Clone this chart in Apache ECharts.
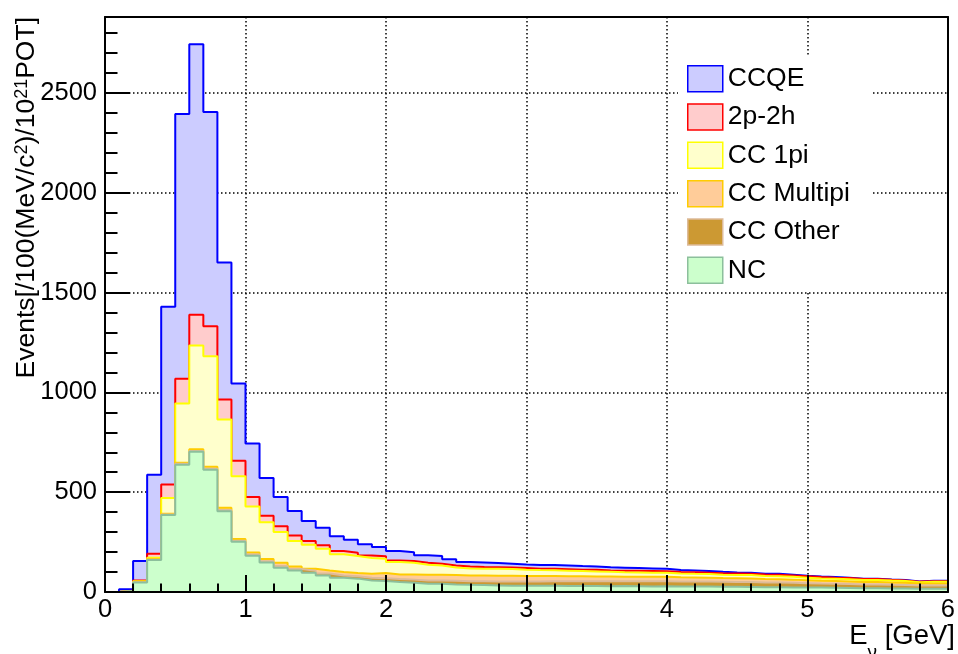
<!DOCTYPE html>
<html>
<head>
<meta charset="utf-8">
<script src="https://cdn.jsdelivr.net/npm/echarts@6/dist/echarts.min.js"></script>
<style>
  html, body { margin: 0; padding: 0; background: #fff; }
  #chart { width: 958px; height: 654px; }
</style>
</head>
<body>
<div id="chart"></div>
<script>
// Neutrino energy spectrum, events per 100 MeV bin, 0 - 6 GeV (60 bins)
const binWidth = 0.1;   // GeV
const xMin = 0, xMax = 6;
const yMax = 2881;

// Per-channel bin contents, listed bottom layer first
const nc        = [0,5,48,160,386,638,703,612,405,252, 182,148,122,108,97,83,72,67,58,55, 50,46,41,41,38,36,35,33,31,31,
                   31,31,30,30,30,29,30,29,28,29, 28,28,27,26,26,25,24,24,23,22, 22,21,20,19,19,18,17,16,16,16];
const ccOther   = [0,0,1,1,2,4,4,5,6,5, 6,6,8,7,9,10,11,12,13,14, 15,16,17,17,18,18,19,20,21,21,
                   22,23,24,24,24,25,24,25,26,25, 25,25,25,25,24,25,24,23,23,22, 20,20,20,19,19,18,18,16,17,17];
const ccMultipi = [0,0,2,4,4,6,8,10,11,9, 10,11,16,13,11,15,17,16,21,26, 23,26,29,29,29,29,29,29,29,28,
                   27,26,25,25,24,24,23,23,22,22, 21,20,20,19,19,18,17,17,16,15, 14,14,13,12,12,12,11,10,10,10];
const cc1pi     = [0,1,3,7,79,296,520,554,442,314, 231,185,154,128,120,109,89,85,78,72, 62,59,50,46,38,35,34,34,34,32,
                   30,29,28,26,25,23,22,21,21,20, 19,18,18,17,16,17,15,15,14,13, 12,11,11,10,10,9,9,7,8,8];
const twoP2h    = [0,1,4,20,67,124,154,151,100,77, 47,32,29,27,18,17,16,17,13,12, 8,8,10,9,10,10,8,8,8,8,
                   7,7,7,7,8,7,8,8,8,8, 7,8,7,7,8,7,8,8,7,7, 7,6,6,5,5,4,3,3,3,3];
const ccqe      = [0,7,97,396,891,1327,1355,1073,687,388, 268,189,147,123,101,88,74,65,56,46, 47,44,37,38,31,22,23,21,19,18,
                   18,19,19,18,17,16,15,14,13,12, 10,9,8,7,5,5,4,5,4,3, 3,3,2,2,2,2,2,1,2,2];

const xTicks = [0, 1, 2, 3, 4, 5, 6];
const yTicks = [0, 500, 1000, 1500, 2000, 2500];

const FONT = '"Liberation Sans", Arial, Helvetica, sans-serif';

const layers = [
  { name: 'NC',         values: nc,        fill: '#ccffcc', line: '#8cbf9c' },
  { name: 'CC Other',   values: ccOther,   fill: '#cc9933', line: '#ddbb99' },
  { name: 'CC Multipi', values: ccMultipi, fill: '#ffcc99', line: '#ffcc00' },
  { name: 'CC 1pi',     values: cc1pi,     fill: '#ffffcc', line: '#ffff00' },
  { name: '2p-2h',      values: twoP2h,    fill: '#ffcccc', line: '#ff0000' },
  { name: 'CCQE',       values: ccqe,      fill: '#ccccff', line: '#0000ff' }
];

// Stack: each layer's drawn height is the running sum of itself and every layer below
const running = new Array(nc.length).fill(0);
layers.forEach(L => {
  L.cumulative = L.values.map((v, i) => (running[i] += v));
});

// Bin contents -> step points at the low edge of each bin, closed at the last upper edge
function toSteps(values) {
  const pts = values.map((v, i) => [xMin + i * binWidth, v]);
  pts.push([xMin + values.length * binWidth, values[values.length - 1]]);
  return pts;
}

// Draw the full sum first, then each smaller partial sum over it
const series = layers.slice().reverse().map((L, i) => ({
  name: L.name,
  type: 'line',
  step: 'end',
  xAxisIndex: 0,
  yAxisIndex: 0,
  symbol: 'none',
  showSymbol: false,
  z: 2 + i,
  itemStyle: { color: L.line },
  lineStyle: { color: L.line, width: 2 },
  areaStyle: { color: L.fill, opacity: 1, origin: 'start' },
  emphasis: { disabled: true },
  data: toSteps(L.cumulative)
}));

const gridDots = { color: '#000', width: 1.5, type: [1.5, 2.5] };
const axisBlack = { color: '#000', width: 2 };
const plainNumber = v => String(v);

const chart = echarts.init(document.getElementById('chart'), null, { renderer: 'canvas' });
chart.setOption({
  animation: false,
  backgroundColor: '#fff',
  grid: { left: 105, right: 9, top: 17, bottom: 62 },
  xAxis: [
    { // dotted grid, behind the histograms
      type: 'value', min: xMin, max: xMax, interval: 1, position: 'bottom', z: 0,
      axisLine: { show: false }, axisTick: { show: false }, axisLabel: { show: false },
      splitLine: { show: true, lineStyle: gridDots }
    },
    { // axis line, major ticks and labels
      type: 'value', min: xMin, max: xMax, interval: 1, position: 'bottom', z: 20,
      axisLine: { show: true, onZero: false, lineStyle: axisBlack },
      axisTick: { show: true, inside: true, length: 17, lineStyle: axisBlack },
      axisLabel: {
        show: true, margin: 5, color: '#000', fontSize: 25.5, fontFamily: FONT,
        customValues: xTicks, formatter: plainNumber
      },
      splitLine: { show: false }
    },
    { // minor ticks every 0.2 GeV
      type: 'value', min: xMin, max: xMax, interval: 0.2, position: 'bottom', z: 20,
      axisLine: { show: false },
      axisTick: { show: true, inside: true, length: 8.5, lineStyle: axisBlack },
      axisLabel: { show: false }, splitLine: { show: false }
    },
    { // top frame
      type: 'value', min: xMin, max: xMax, position: 'top', z: 20,
      axisLine: { show: true, onZero: false, lineStyle: axisBlack },
      axisTick: { show: false }, axisLabel: { show: false }, splitLine: { show: false }
    }
  ],
  yAxis: [
    { // dotted grid
      type: 'value', min: 0, max: yMax, interval: 500, position: 'left', z: 0,
      axisLine: { show: false }, axisTick: { show: false }, axisLabel: { show: false },
      splitLine: { show: true, lineStyle: gridDots }
    },
    { // major ticks and labels
      type: 'value', min: 0, max: yMax, interval: 500, position: 'left', z: 20,
      axisLine: { show: true, onZero: false, lineStyle: axisBlack },
      axisTick: { show: true, inside: true, length: 25, lineStyle: axisBlack },
      axisLabel: {
        show: true, margin: 8, color: '#000', fontSize: 25.5, fontFamily: FONT,
        customValues: yTicks, formatter: plainNumber
      },
      splitLine: { show: false }
    },
    { // minor ticks every 100
      type: 'value', min: 0, max: yMax, interval: 100, position: 'left', z: 20,
      axisLine: { show: false },
      axisTick: { show: true, inside: true, length: 12.5, lineStyle: axisBlack },
      axisLabel: { show: false }, splitLine: { show: false }
    },
    { // right frame
      type: 'value', min: 0, max: yMax, position: 'right', z: 20,
      axisLine: { show: true, onZero: false, lineStyle: axisBlack },
      axisTick: { show: false }, axisLabel: { show: false }, splitLine: { show: false }
    }
  ],
  legend: {
    orient: 'vertical',
    left: 678, top: 57,
    padding: [8, 23, 8, 9],
    backgroundColor: '#fff',
    itemWidth: 35, itemHeight: 26, itemGap: 10.8,
    selectedMode: false,
    textStyle: { color: '#000', fontSize: 26.5, fontFamily: FONT, lineHeight: 26 },
    data: layers.slice().reverse().map(L => ({
      name: L.name,
      icon: 'rect',
      itemStyle: { color: L.fill, borderColor: L.line, borderWidth: 1.5 }
    }))
  },
  graphic: [
    {
      type: 'text', x: 27, y: 17, rotation: Math.PI / 2, z: 30,
      style: {
        text: '{n|Events[/100(MeV/c}{s|2}{n|)/10}{s|21}{n|POT]}',
        fill: '#000',
        textAlign: 'right', textVerticalAlign: 'middle',
        rich: {
          n: { fontSize: 26.5, fontFamily: FONT, fill: '#000', lineHeight: 28, verticalAlign: 'top' },
          s: { fontSize: 18, fontFamily: FONT, fill: '#000', lineHeight: 16, verticalAlign: 'top' }
        }
      }
    },
    {
      type: 'text', x: 955, y: 622, z: 30,
      style: {
        text: '{a|E}{b|ν}{a| [GeV]}',
        fill: '#000',
        textAlign: 'right', textVerticalAlign: 'top',
        rich: {
          a: { fontSize: 27.5, fontFamily: FONT, fill: '#000', lineHeight: 30, verticalAlign: 'top' },
          b: { fontSize: 19, fontFamily: FONT, fill: '#000', lineHeight: 30, verticalAlign: 'top', padding: [21, 0, 0, 0] }
        }
      }
    }
  ],
  series: series
});
</script>
</body>
</html>
